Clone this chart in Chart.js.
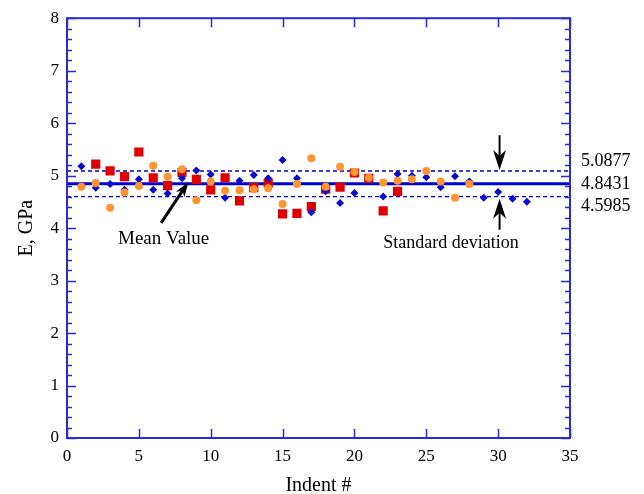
<!DOCTYPE html>
<html>
<head>
<meta charset="utf-8">
<script src="https://cdn.jsdelivr.net/npm/chart.js@4.4.0/dist/chart.umd.min.js"></script>
<style>
html, body { margin: 0; padding: 0; background: #fff; }
</style>
</head>
<body>
<canvas id="myChart" width="644" height="494"></canvas>
<script>
'use strict'
// data
var blueIndent = [1, 2, 3, 4, 5, 6, 7, 8, 9, 10, 11, 12, 13, 14, 15, 16, 17, 18, 19, 20, 22, 23, 24, 25, 26, 27, 28, 29, 30, 31, 32];
var blueE = [5.18, 4.77, 4.84, 4.73, 4.93, 4.73, 4.66, 4.95, 5.10, 5.02, 4.58, 4.90, 5.01, 4.95, 5.30, 4.95, 4.30, 4.70, 4.48, 4.67, 4.60, 5.03, 5.00, 4.97, 4.78, 4.99, 4.89, 4.58, 4.69, 4.56, 4.50];

var orangeIndent = [1, 2, 3, 4, 5, 6, 7, 8, 9, 10, 11, 12, 13, 14, 15, 16, 17, 18, 19, 20, 21, 22, 23, 24, 25, 26, 27, 28];
var orangeE = [4.79, 4.86, 4.39, 4.68, 4.80, 5.19, 4.98, 5.12, 4.53, 4.89, 4.71, 4.72, 4.74, 4.76, 4.46, 4.84, 5.33, 4.79, 5.17, 5.07, 4.96, 4.87, 4.90, 4.93, 5.09, 4.89, 4.58, 4.84];

var redIndent = [2, 3, 4, 5, 6, 7, 8, 9, 10, 11, 12, 13, 14, 15, 16, 17, 18, 19, 20, 21, 22, 23];
var redE = [5.22, 5.09, 4.98, 5.45, 4.96, 4.81, 5.06, 4.93, 4.73, 4.96, 4.52, 4.77, 4.86, 4.27, 4.28, 4.41, 4.74, 4.78, 5.05, 4.95, 4.33, 4.70];

var meanE = 4.8431;
var sdHigh = 5.0877;
var sdLow = 4.5985;

var xMin = 0, xMax = 35, xStep = 5;
var yMin = 0, yMax = 8, yStep = 1, yMinorStep = 0.2;

var axisBlue = '#2a2ad8';
var serif = "'Liberation Serif', 'Times New Roman', serif";

function makePoints(xs, ys) {
    var pts = [];
    for (var i = 0; i < xs.length; i++) {
        pts.push({ x: xs[i], y: ys[i] });
    }
    return pts;
}

function hLine(v) {
    return [{ x: xMin, y: v }, { x: xMax, y: v }];
}

// arrow with a notched head, tip at (x2, y2)
function drawArrow(ctx, x1, y1, x2, y2, headLen, headW, lw) {
    var ang = Math.atan2(y2 - y1, x2 - x1);
    var c = Math.cos(ang), s = Math.sin(ang);
    var bx = x2 - c * headLen, by = y2 - s * headLen;
    var nx = x2 - c * headLen * 0.7, ny = y2 - s * headLen * 0.7;
    ctx.save();
    ctx.strokeStyle = '#000';
    ctx.fillStyle = '#000';
    ctx.lineWidth = lw;
    ctx.beginPath();
    ctx.moveTo(x1, y1);
    ctx.lineTo(nx, ny);
    ctx.stroke();
    ctx.beginPath();
    ctx.moveTo(x2, y2);
    ctx.lineTo(bx - s * headW / 2, by + c * headW / 2);
    ctx.lineTo(nx, ny);
    ctx.lineTo(bx + s * headW / 2, by - c * headW / 2);
    ctx.closePath();
    ctx.fill();
    ctx.restore();
}

// frame with inward ticks, like the original plot
var framePlugin = {
    id: 'frame',
    afterDraw: function (chart) {
        var ctx = chart.ctx;
        var xs = chart.scales.x, ys = chart.scales.y;
        var a = chart.chartArea;
        ctx.save();
        ctx.strokeStyle = axisBlue;
        ctx.lineWidth = 1.5;
        ctx.beginPath();
        for (var v = yMin; v <= yMax + 1e-9; v += yMinorStep) {
            var py = Math.round(ys.getPixelForValue(v)) + 0.5;
            var major = Math.abs(v - Math.round(v)) < 1e-6;
            var len = major ? 9 : 5;
            ctx.moveTo(a.left, py); ctx.lineTo(a.left + len, py);
            ctx.moveTo(a.right, py); ctx.lineTo(a.right - len, py);
        }
        for (var t = xMin; t <= xMax; t += xStep) {
            var px = Math.round(xs.getPixelForValue(t)) + 0.5;
            ctx.moveTo(px, a.bottom); ctx.lineTo(px, a.bottom - 9);
            ctx.moveTo(px, a.top); ctx.lineTo(px, a.top + 9);
        }
        ctx.stroke();
        ctx.lineWidth = 2;
        ctx.strokeRect(a.left, a.top, a.right - a.left, a.bottom - a.top);
        ctx.restore();
    }
};

var notesPlugin = {
    id: 'notes',
    afterDraw: function (chart) {
        var ctx = chart.ctx;
        var xs = chart.scales.x, ys = chart.scales.y;
        var a = chart.chartArea;
        ctx.save();
        ctx.fillStyle = '#000';
        ctx.textBaseline = 'middle';
        ctx.textAlign = 'left';
        ctx.font = '18px ' + serif;
        ctx.fillText(sdHigh.toFixed(4), a.right + 11, ys.getPixelForValue(sdHigh) - 10);
        ctx.fillText(meanE.toFixed(4), a.right + 11, ys.getPixelForValue(meanE));
        ctx.fillText(sdLow.toFixed(4), a.right + 11, ys.getPixelForValue(sdLow) + 10);

        ctx.font = '19px ' + serif;
        ctx.fillText('Mean Value', xs.getPixelForValue(3.55), ys.getPixelForValue(3.79));
        ctx.font = '18px ' + serif;
        ctx.fillText('Standard deviation', xs.getPixelForValue(22.0), ys.getPixelForValue(3.71));
        ctx.restore();

        drawArrow(ctx, xs.getPixelForValue(6.55), ys.getPixelForValue(4.10),
            xs.getPixelForValue(8.45), ys.getPixelForValue(4.88), 15, 10, 3);
        var ax = xs.getPixelForValue(30.1);
        drawArrow(ctx, ax, ys.getPixelForValue(5.77), ax, ys.getPixelForValue(sdHigh) - 1, 20, 13, 2);
        drawArrow(ctx, ax, ys.getPixelForValue(3.97), ax, ys.getPixelForValue(sdLow) + 2, 20, 13, 2);
    }
};

var ctx = document.getElementById('myChart').getContext('2d');
var chart = new Chart(ctx, {
    type: 'scatter',
    data: {
        datasets: [{
            label: 'orange',
            data: makePoints(orangeIndent, orangeE),
            pointStyle: 'circle',
            pointRadius: 4,
            backgroundColor: '#ff9430',
            borderColor: '#ff9430',
            borderWidth: 0,
            order: 1
        }, {
            label: 'blue',
            data: makePoints(blueIndent, blueE),
            pointStyle: 'rectRot',
            pointRadius: 4,
            backgroundColor: '#0a0ad0',
            borderColor: '#0a0ad0',
            borderWidth: 0,
            order: 2
        }, {
            label: 'red',
            data: makePoints(redIndent, redE),
            pointStyle: 'rect',
            pointRadius: 6.5,
            backgroundColor: '#e00000',
            borderColor: '#e00000',
            borderWidth: 0,
            order: 3
        }, {
            label: 'mean',
            type: 'line',
            data: hLine(meanE),
            borderColor: '#0000d0',
            borderWidth: 3,
            pointRadius: 0,
            fill: false,
            order: 4
        }, {
            label: 'sd high',
            type: 'line',
            data: hLine(sdHigh),
            borderColor: '#0000d0',
            borderWidth: 1.3,
            borderDash: [4, 3],
            pointRadius: 0,
            fill: false,
            order: 5
        }, {
            label: 'sd low',
            type: 'line',
            data: hLine(sdLow),
            borderColor: '#0000d0',
            borderWidth: 1.3,
            borderDash: [4, 3],
            pointRadius: 0,
            fill: false,
            order: 6
        }]
    },
    options: {
        responsive: false,
        animation: false,
        layout: { padding: { left: 0, right: 74, top: 18, bottom: 0 } },
        plugins: {
            legend: { display: false },
            tooltip: { enabled: false }
        },
        scales: {
            x: {
                type: 'linear',
                min: xMin,
                max: xMax,
                afterFit: function (s) { s.height = 56; },
                grid: { display: false, drawTicks: false },
                border: { display: false },
                ticks: { stepSize: xStep, padding: 8, color: '#000', font: { family: serif, size: 17 } },
                title: { display: true, text: 'Indent #', color: '#000', font: { family: serif, size: 20, lineHeight: 1 }, padding: { top: 0, bottom: -2 } }
            },
            y: {
                type: 'linear',
                min: yMin,
                max: yMax,
                afterFit: function (s) { s.width = 67; },
                grid: { display: false, drawTicks: false },
                border: { display: false },
                ticks: { stepSize: yStep, padding: 8, color: '#000', font: { family: serif, size: 17 } },
                title: { display: true, text: 'E, GPa', color: '#000', font: { family: serif, size: 20, lineHeight: 1 }, padding: { top: 17, bottom: 0 } }
            }
        }
    },
    plugins: [framePlugin, notesPlugin]
});
</script>
</body>
</html>
